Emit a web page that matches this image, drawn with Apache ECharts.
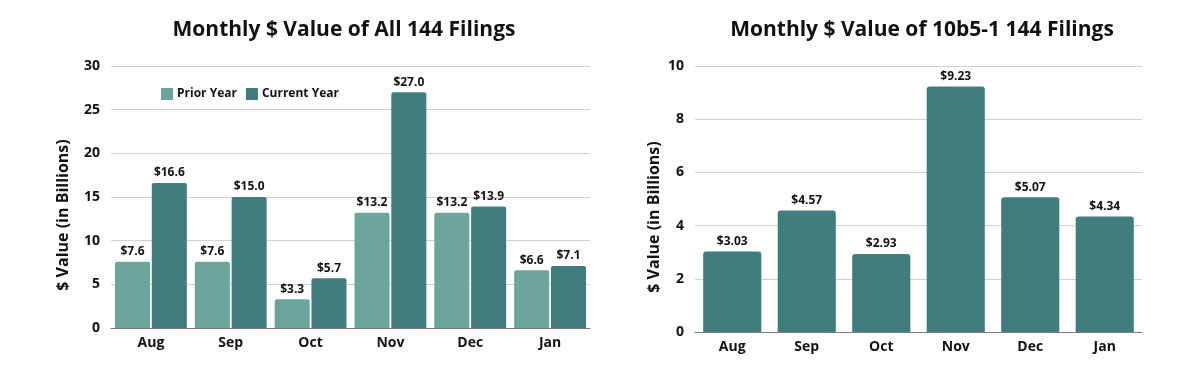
<!DOCTYPE html>
<html><head><meta charset="utf-8">
<script src="https://cdn.jsdelivr.net/npm/echarts@6/dist/echarts.min.js"></script>
<style>html,body{margin:0;padding:0;background:#fff}#c{width:1190px;height:373px}</style>
</head><body><div id="c"></div>
<script>
const months = ['Aug','Sep','Oct','Nov','Dec','Jan'];
const priorYear = [7.6, 7.6, 3.3, 13.2, 13.2, 6.6];
const currentYear = [16.6, 15.0, 5.7, 27.0, 13.9, 7.1];
const plan10b51 = [3.03, 4.57, 2.93, 9.23, 5.07, 4.34];
const leftTitle = 'Monthly $ Value of All 144 Filings';
const rightTitle = 'Monthly $ Value of 10b5-1 144 Filings';
const yName = '$ Value (in Billions)';

const F = '"Open Sans", sans-serif';
const cPrior = '#6ca59a', cCur = '#417d7e';
const chart = echarts.init(document.getElementById('c'));
const lbl = (d) => ({show:true, position:'top', distance:4, color:'#111', fontFamily:F, fontWeight:'bold', fontSize:12,
  formatter: p => '$' + p.value.toFixed(d)});
const yAx = (gi, max, interval) => ({
  type:'value', gridIndex:gi, min:0, max:max, interval:interval,
  axisLabel:{fontFamily:F, fontWeight:'bold', fontSize:14, color:'#111', margin:11},
  axisLine:{show:false}, axisTick:{show:false},
  splitLine:{lineStyle:{color:'#d0d0d0', width:1}}
});
const xAx = (gi) => ({
  type:'category', gridIndex:gi, data:months,
  axisLabel:{fontFamily:F, fontWeight:'bold', fontSize:14, color:'#111', margin:8},
  axisLine:{lineStyle:{color:'#777'}}, axisTick:{show:false}
});
const yNameText = (x, y) => ({type:'text', x:x, y:y, rotation:Math.PI/2,
  style:{text:yName, fontFamily:F, fontWeight:'bold', fontSize:16, fill:'#111', textAlign:'center', textVerticalAlign:'middle'}});
chart.setOption({
  animation:false,
  title:[
    {text:leftTitle, left:339, top:15, textAlign:'center', textStyle:{fontFamily:F, fontWeight:'bold', fontSize:21, color:'#111'}},
    {text:rightTitle, left:917, top:15, textAlign:'center', textStyle:{fontFamily:F, fontWeight:'bold', fontSize:21, color:'#111'}}
  ],
  graphic:[yNameText(63, 215), yNameText(654, 217)],
  legend:{data:['Prior Year','Current Year'], left:156, top:83, itemWidth:12, itemHeight:12, itemGap:9, icon:'rect',
    textStyle:{fontFamily:F, fontWeight:'bold', fontSize:12, color:'#111', padding:[0,0,0,-1]}},
  grid:[
    {left:111, right:1190-590, top:66, bottom:373-328},
    {left:695, right:1190-1142, top:66, bottom:373-332}
  ],
  xAxis:[xAx(0), xAx(1)],
  yAxis:[yAx(0,30,5), yAx(1,10,2)],
  series:[
    {name:'Prior Year', type:'bar', xAxisIndex:0, yAxisIndex:0, data:priorYear, itemStyle:{color:cPrior, borderRadius:[2,2,0,0]},
      barGap:'5%', barCategoryGap:'10%', label:lbl(1)},
    {name:'Current Year', type:'bar', xAxisIndex:0, yAxisIndex:0, data:currentYear, itemStyle:{color:cCur, borderRadius:[2,2,0,0]},
      barGap:'5%', barCategoryGap:'10%', label:lbl(1)},
    {name:'10b5-1', type:'bar', xAxisIndex:1, yAxisIndex:1, data:plan10b51, itemStyle:{color:cCur, borderRadius:[3,3,0,0]},
      barCategoryGap:'22%', label:lbl(2)}
  ]
});
</script></body></html>
